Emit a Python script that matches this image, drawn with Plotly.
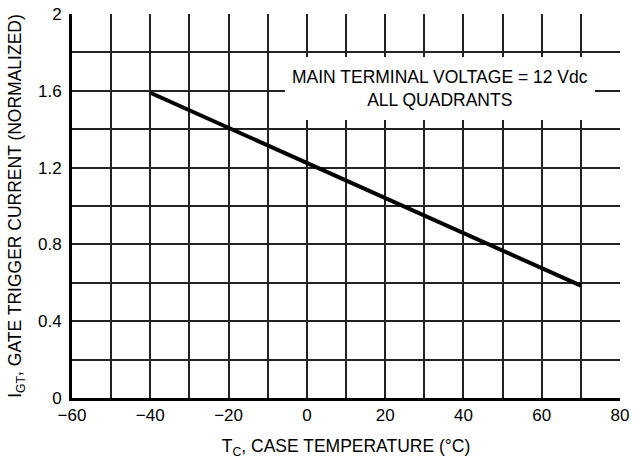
import plotly.graph_objects as go

temp_c = [-40, 70]
igt_norm = [1.59, 0.585]
annotation_lines = ["MAIN TERMINAL VOLTAGE = 12 Vdc", "ALL QUADRANTS"]

FONT = "Liberation Sans Narrow, Arial Narrow, Liberation Sans, sans-serif"

fig = go.Figure()
fig.add_trace(go.Scatter(x=temp_c, y=igt_norm, mode="lines",
                         line=dict(color="black", width=4), showlegend=False))

# white box behind annotation
fig.add_shape(type="rect", x0=-5.6, x1=73.6, y0=1.448, y1=1.776,
              fillcolor="white", line=dict(width=0), layer="above")
fig.add_annotation(x=34, y=1.61, text="<br>".join(annotation_lines),
                   showarrow=False, font=dict(family=FONT, size=17.5, color="black"),
                   align="center")

fig.update_layout(
    width=635, height=460,
    margin=dict(l=72, r=15, t=14, b=62),
    plot_bgcolor="white", paper_bgcolor="white",
    font=dict(family=FONT, size=17, color="black"),
    xaxis=dict(range=[-60, 80], dtick=20, tick0=-60, showgrid=True,
               gridcolor="#222", gridwidth=1.5, automargin=False,
               minor=dict(dtick=10, showgrid=True, gridcolor="#222", gridwidth=1.5),
               showline=True, linecolor="black", linewidth=3, ticks="",
               zeroline=False,
               title=dict(text="T<sub>C</sub>, CASE TEMPERATURE (°C)", font=dict(size=17.5), standoff=16)),
    yaxis=dict(range=[0, 2], dtick=0.4, tick0=0, showgrid=True,
               gridcolor="#222", gridwidth=1.5, automargin=False,
               minor=dict(dtick=0.2, showgrid=True, gridcolor="#222", gridwidth=1.5),
               showline=True, linecolor="black", linewidth=3, ticks="",
               zeroline=False, ticklabelstandoff=4,
               title=dict(text="I<sub>GT</sub>, GATE TRIGGER CURRENT (NORMALIZED)", font=dict(size=17.5), standoff=12)),
)

fig.write_html("out.html", config={"displayModeBar": False},
               post_script="document.body.style.margin='0';document.body.style.overflow='hidden';")
